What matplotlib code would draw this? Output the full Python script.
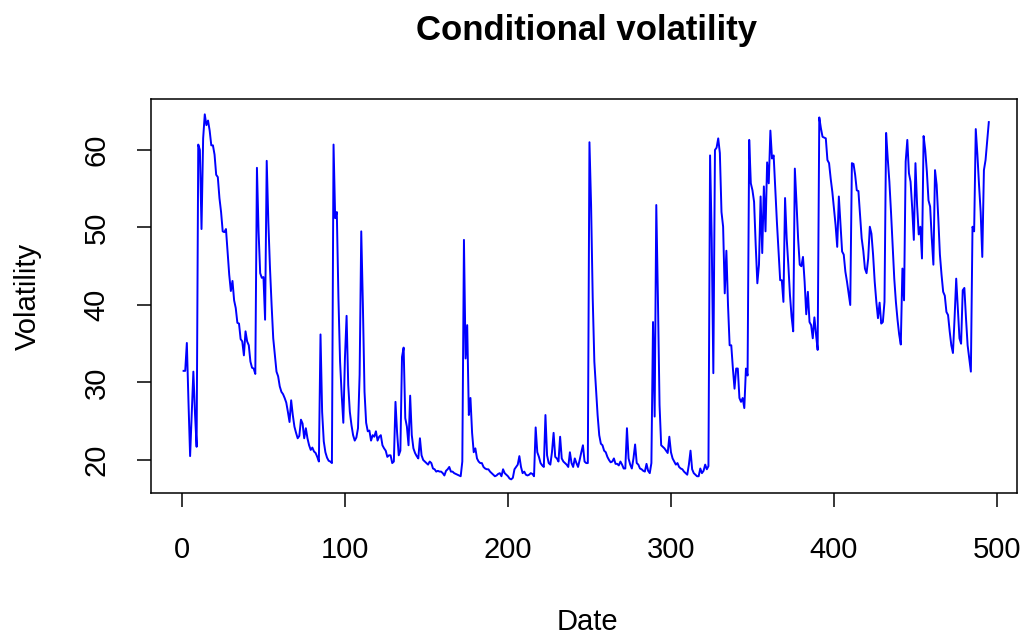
import numpy as np
import matplotlib
matplotlib.use("Agg")
import matplotlib.pyplot as plt

plt.rcParams['font.family'] = ['Liberation Sans', 'DejaVu Sans']

# conditional volatility, one value per trading day
volatility = [
    31.5, 31.5, 35.1, 27.5, 20.5, 26.0, 31.4, 26.0, 21.7, 60.7,
    60.0, 49.8, 61.5, 64.6, 63.2, 63.8, 62.5, 60.6, 60.6, 59.4,
    56.8, 56.5, 53.8, 52.0, 49.5, 49.4, 49.8, 46.9, 43.9, 41.8,
    43.1, 40.6, 39.6, 37.7, 37.6, 35.6, 35.3, 33.5, 36.6, 35.3,
    34.8, 32.7, 31.9, 31.8, 31.1, 57.7, 49.5, 44.1, 43.5, 43.6,
    38.1, 58.6, 50.7, 44.8, 40.0, 35.7, 33.5, 31.4, 30.8, 29.5,
    28.8, 28.5, 28.0, 27.4, 26.2, 24.9, 27.7, 25.8, 24.3, 23.5,
    22.8, 23.1, 25.2, 24.7, 22.8, 24.1, 22.8, 21.9, 21.3, 21.6,
    21.1, 20.9, 20.4, 19.8, 36.2, 26.2, 22.4, 21.0, 20.3, 19.9,
    19.8, 19.6, 60.7, 51.2, 52.0, 40.9, 32.7, 28.4, 24.8, 33.2,
    38.6, 29.7, 26.2, 24.5, 23.2, 22.5, 22.9, 24.1, 31.0, 49.5,
    40.0, 28.8, 24.8, 23.7, 23.8, 22.5, 23.2, 23.0, 23.7, 22.5,
    23.0, 23.2, 21.9, 21.5, 21.2, 20.4, 20.6, 20.6, 19.6, 19.8,
    27.5, 23.5, 20.6, 21.2, 33.3, 34.5, 25.4, 24.3, 21.9, 28.3,
    23.2, 21.5, 20.9, 20.5, 20.2, 22.8, 20.6, 20.0, 19.8, 19.6,
    19.4, 19.8, 19.6, 18.9, 18.8, 18.5, 18.6, 18.5, 18.5, 18.3,
    18.0, 18.6, 18.8, 19.1, 18.5, 18.5, 18.3, 18.2, 18.1, 18.0,
    17.9, 19.8, 48.4, 33.1, 37.4, 25.8, 28.0, 23.5, 21.0, 21.5,
    20.2, 19.8, 19.6, 19.6, 19.1, 18.9, 18.8, 18.8, 18.5, 18.3,
    18.1, 17.9, 18.0, 18.2, 18.3, 17.9, 18.8, 18.3, 18.1, 17.9,
    17.6, 17.5, 17.7, 18.8, 19.1, 19.4, 20.5, 19.1, 18.3, 18.5,
    18.1, 18.0, 18.1, 18.3, 18.2, 17.9, 24.2, 21.0, 20.4, 19.6,
    19.3, 19.1, 25.8, 20.6, 19.6, 19.4, 21.0, 23.5, 20.4, 20.2,
    19.8, 23.0, 20.2, 19.8, 19.6, 19.4, 19.1, 21.0, 19.6, 19.1,
    20.2, 19.6, 19.1, 20.0, 21.0, 21.9, 19.8, 19.6, 19.6, 61.0,
    52.9, 40.9, 32.7, 29.2, 25.8, 23.2, 22.1, 21.9, 21.2, 21.0,
    20.4, 20.0, 19.7, 19.8, 20.2, 19.5, 19.5, 19.3, 19.8, 19.4,
    18.9, 18.9, 24.1, 20.2, 19.4, 18.9, 20.2, 22.0, 19.6, 19.4,
    18.9, 18.8, 18.6, 18.5, 19.5, 18.6, 18.3, 19.6, 37.8, 25.6,
    52.9, 40.9, 27.1, 21.9, 21.7, 21.5, 21.2, 20.9, 23.0, 21.0,
    20.2, 19.8, 19.4, 19.6, 19.1, 18.9, 18.8, 18.5, 18.3, 18.1,
    19.4, 21.2, 18.8, 18.3, 18.1, 17.9, 17.9, 18.9, 18.3, 18.6,
    19.4, 18.8, 19.2, 59.3, 48.6, 31.2, 60.0, 60.3, 61.5, 59.6,
    52.0, 50.1, 41.5, 47.0, 40.0, 34.8, 34.8, 31.8, 29.2, 31.8,
    31.8, 28.0, 27.5, 28.0, 26.7, 31.8, 30.9, 61.3, 55.7, 54.8,
    53.3, 47.7, 42.8, 45.2, 54.0, 46.7, 55.3, 49.5, 58.4, 55.7,
    62.5, 58.9, 59.3, 55.0, 50.7, 46.9, 43.2, 43.2, 40.4, 53.8,
    48.6, 45.2, 41.3, 38.5, 36.6, 57.6, 53.3, 48.6, 45.2, 45.0,
    46.2, 43.0, 38.8, 41.7, 37.8, 37.4, 35.7, 38.4, 36.2, 34.2,
    64.2, 62.8, 61.7, 61.6, 61.5, 58.7, 58.3, 56.3, 54.6, 52.5,
    50.3, 47.5, 54.0, 50.5, 46.9, 46.5, 44.3, 43.0, 41.5, 40.0,
    58.3, 58.2, 56.8, 54.8, 54.7, 51.6, 48.6, 47.0, 44.7, 44.1,
    46.0, 50.1, 49.2, 46.5, 43.0, 40.4, 38.3, 40.3, 37.6, 37.8,
    40.4, 62.2, 58.9, 55.9, 52.0, 47.7, 43.4, 40.4, 38.1, 36.2,
    34.9, 44.7, 40.6, 58.5, 61.3, 57.0, 55.9, 52.5, 48.4, 58.3,
    52.9, 49.1, 50.1, 46.0, 61.8, 60.0, 57.2, 53.5, 52.7, 48.6,
    45.2, 57.4, 55.5, 51.2, 46.5, 43.9, 41.7, 41.2, 39.1, 38.7,
    36.6, 34.8, 33.8, 38.3, 43.4, 39.5, 35.7, 35.0, 41.9, 42.2,
    38.3, 34.8, 33.1, 31.4, 50.1, 49.5, 62.7, 59.4, 55.5, 52.0,
    46.2, 57.4, 58.7, 61.1, 63.6,
]
date_index = np.arange(1, len(volatility) + 1)

x_ticks = [0, 100, 200, 300, 400, 500]
y_ticks = [20, 30, 40, 50, 60]

fig = plt.figure(figsize=(10.25, 6.42), dpi=100)
ax = fig.add_axes([0.1473, 0.2321, 0.8449, 0.6137])

ax.plot(date_index, volatility, color='#0000ff', lw=1.4)
ax.set_xlim(-19.0, 512.3)
ax.set_ylim(15.74, 66.58)

ax.set_xticks(x_ticks)
ax.set_yticks(y_ticks)
ax.tick_params(axis='both', direction='out', length=10, width=1.1,
               labelsize=21, color='black')
ax.tick_params(axis='x', pad=21)
ax.tick_params(axis='y', pad=19, labelrotation=90)
for lab in ax.get_yticklabels():
    lab.set_verticalalignment('center')
for sp in ax.spines.values():
    sp.set_linewidth(1.1)

fig.text(0.5727, 0.953, 'Conditional volatility', ha='center', va='center',
         fontsize=25, fontweight='bold')
fig.text(0.5727, 0.031, 'Date', ha='center', va='center', fontsize=21)
fig.text(0.027, 0.5385, 'Volatility', ha='center', va='center',
         fontsize=21, rotation=90)

fig.savefig('out.png', dpi=100)
